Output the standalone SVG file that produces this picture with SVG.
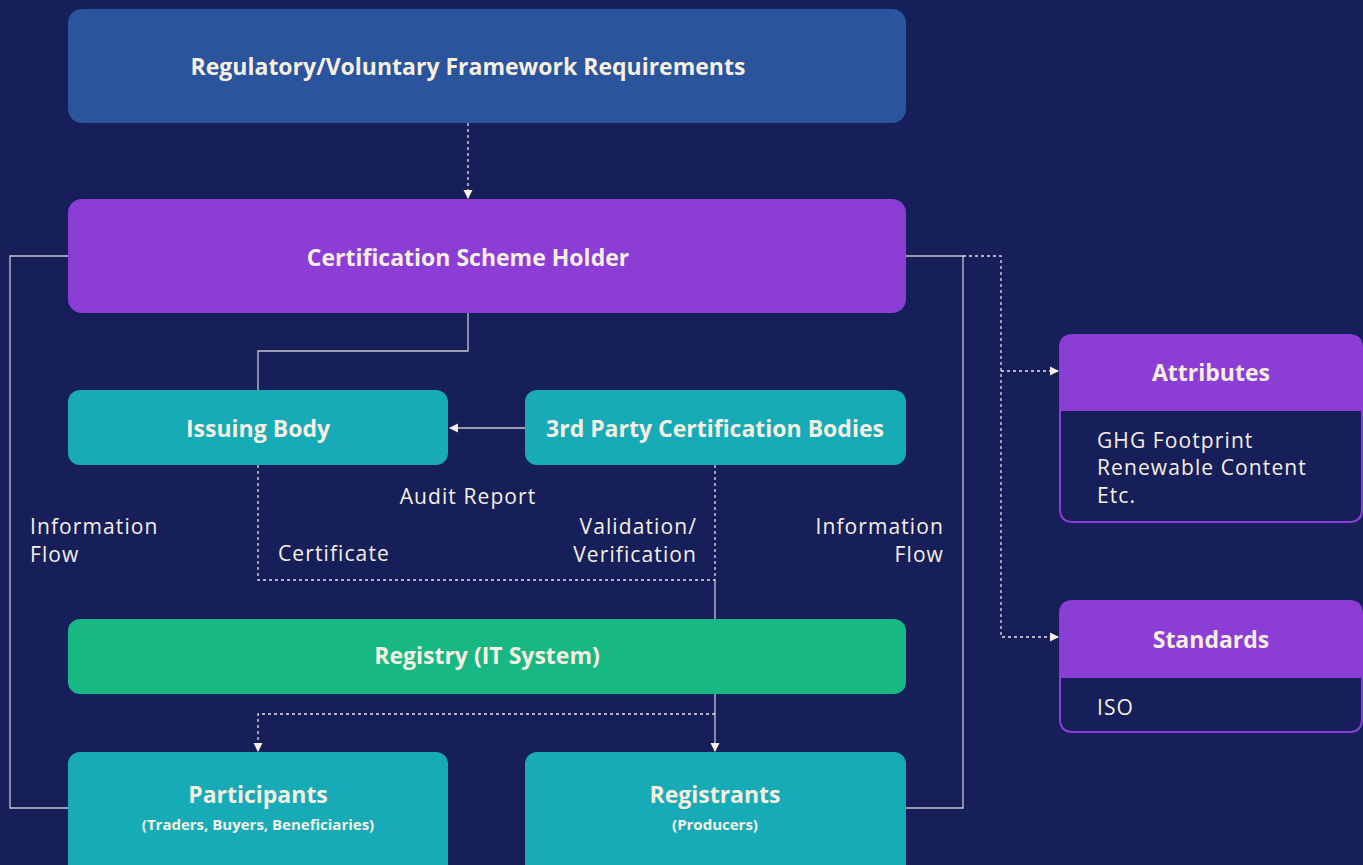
<svg xmlns="http://www.w3.org/2000/svg" width="1363" height="865" viewBox="0 0 1363 865">
<defs>
<style>
.t{font-family:"Open Sans","Liberation Sans",sans-serif;fill:#f6efe2}
.b{font-weight:700;font-size:23px;text-anchor:middle}
.s{font-weight:700;font-size:15px;text-anchor:middle}
.r{font-size:21px;letter-spacing:1.1px}
.ln{fill:none;stroke:#c9c6cc;stroke-width:1.3}
.dt{fill:none;stroke:#e8e4e0;stroke-width:1.3;stroke-dasharray:3 3}
</style>
<marker id="ah" markerWidth="10" markerHeight="10" refX="8" refY="5" orient="auto" markerUnits="userSpaceOnUse">
<path d="M0,0.5 L9,5 L0,9.5 Z" fill="#f6efe2"/>
</marker>
</defs>
<rect width="1363" height="865" fill="#161f5a"/>
<g id="connectors">
<line class="dt" x1="468" y1="123" x2="468" y2="198" marker-end="url(#ah)"/>
<polyline class="ln" points="468,313 468,351 258,351 258,390"/>
<line class="ln" x1="525" y1="428" x2="450" y2="428" marker-end="url(#ah)"/>
<polyline class="dt" points="258,465 258,580 715,580 715,465"/>
<line class="ln" x1="715" y1="580" x2="715" y2="751" marker-end="url(#ah)"/>
<polyline class="dt" points="715,714 258,714 258,751" marker-end="url(#ah)"/>
<polyline class="ln" points="68,256 10,256 10,808 68,808"/>
<polyline class="ln" points="906,256 963,256 963,808 906,808"/>
<polyline class="dt" points="963,256 1001,256 1001,637 1058,637" marker-end="url(#ah)"/>
<line class="dt" x1="1001" y1="371" x2="1058" y2="371" marker-end="url(#ah)"/>
</g>
<g id="framework">
<rect x="68" y="9" width="838" height="114" rx="14" fill="#2a549b"/>
<text class="t b" x="468" y="75">Regulatory/Voluntary Framework Requirements</text>
</g>
<g id="scheme-holder">
<rect x="68" y="199" width="838" height="114" rx="14" fill="#8c3dd6"/>
<text class="t b" x="468" y="266">Certification Scheme Holder</text>
</g>
<g id="issuing-body">
<rect x="68" y="390" width="380" height="75" rx="12" fill="#16abb6"/>
<text class="t b" x="258" y="437">Issuing Body</text>
</g>
<g id="third-party">
<rect x="525" y="390" width="381" height="75" rx="12" fill="#16abb6"/>
<text class="t b" x="715" y="437">3rd Party Certification Bodies</text>
</g>
<g id="registry">
<rect x="68" y="619" width="838" height="75" rx="12" fill="#17b884"/>
<text class="t b" x="487" y="664">Registry (IT System)</text>
</g>
<g id="participants">
<rect x="68" y="752" width="380" height="130" rx="12" fill="#16abb6"/>
<text class="t b" x="258" y="803">Participants</text>
<text class="t s" x="258" y="830">(Traders, Buyers, Beneficiaries)</text>
</g>
<g id="registrants">
<rect x="525" y="752" width="381" height="130" rx="12" fill="#16abb6"/>
<text class="t b" x="715" y="803">Registrants</text>
<text class="t s" x="715" y="830">(Producers)</text>
</g>
<g id="attributes">
<path d="M1073,334 H1349 Q1363,334 1363,348 V410 H1059 V348 Q1059,334 1073,334 Z" fill="#8c3dd6"/>
<path d="M1059,410 H1362 V509 Q1362,522 1349,522 H1073 Q1060,522 1060,509 V410 Z" fill="#161f5a" stroke="#8c3dd6" stroke-width="2"/>
<text class="t b" x="1211" y="381">Attributes</text>
<text class="t r" x="1097" y="448">GHG Footprint</text>
<text class="t r" x="1097" y="475">Renewable Content</text>
<text class="t r" x="1097" y="503">Etc.</text>
</g>
<g id="standards">
<path d="M1073,600 H1349 Q1363,600 1363,614 V677 H1059 V614 Q1059,600 1073,600 Z" fill="#8c3dd6"/>
<path d="M1059,677 H1362 V719 Q1362,732 1349,732 H1073 Q1060,732 1060,719 V677 Z" fill="#161f5a" stroke="#8c3dd6" stroke-width="2"/>
<text class="t b" x="1211" y="648">Standards</text>
<text class="t r" x="1097" y="715">ISO</text>
</g>
<g id="labels">
<text class="t r" x="30" y="534">Information</text>
<text class="t r" x="30" y="562">Flow</text>
<text class="t r" x="944" y="534" text-anchor="end">Information</text>
<text class="t r" x="944" y="562" text-anchor="end">Flow</text>
<text class="t r" x="468" y="504" text-anchor="middle">Audit Report</text>
<text class="t r" x="697" y="534" text-anchor="end">Validation/</text>
<text class="t r" x="697" y="562" text-anchor="end">Verification</text>
<text class="t r" x="278" y="561">Certificate</text>
</g>
</svg>
